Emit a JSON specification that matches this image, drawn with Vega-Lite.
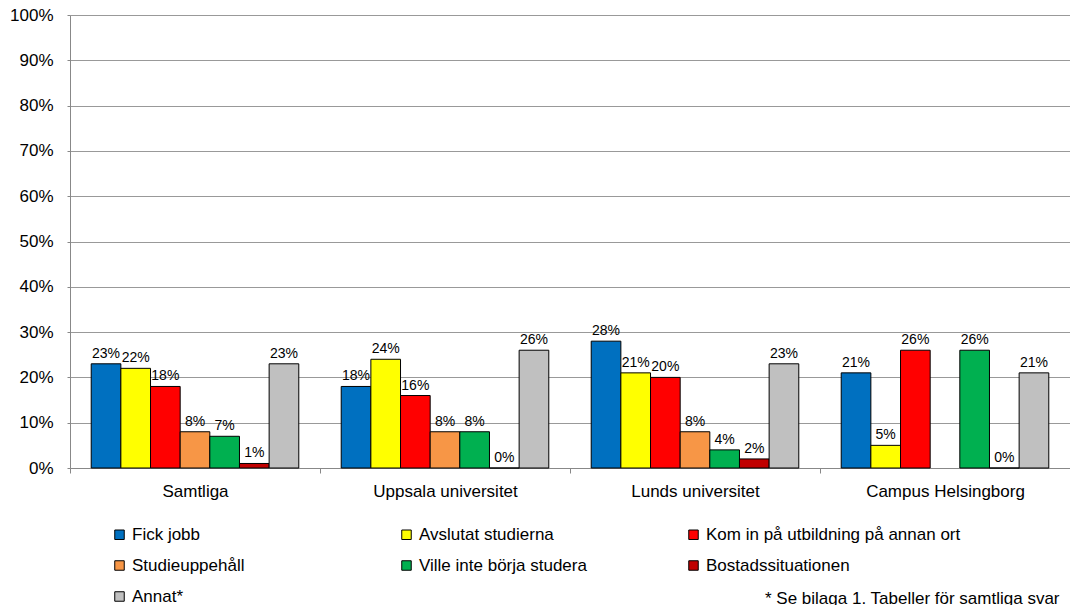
{
  "$schema": "https://vega.github.io/schema/vega-lite/v6.json",
  "width": 1000,
  "height": 453,
  "autosize": {"type": "none"},
  "padding": {"left": 70, "top": 15, "right": 0, "bottom": 137},
  "background": "white",
  "title": {
    "text": "* Se bilaga 1. Tabeller för samtliga svar",
    "orient": "top",
    "anchor": "start",
    "frame": "group",
    "dx": 695,
    "dy": 602,
    "offset": 0,
    "font": "Liberation Sans",
    "fontSize": 17,
    "fontWeight": "normal",
    "color": "black"
  },
  "config": {
    "view": {"stroke": null},
    "font": "Liberation Sans"
  },
  "data": {
    "values": [
      {"grupp": "Samtliga", "orsak": "Fick jobb", "andel": 0.23},
      {"grupp": "Samtliga", "orsak": "Avslutat studierna", "andel": 0.22},
      {"grupp": "Samtliga", "orsak": "Kom in på utbildning på annan ort", "andel": 0.18},
      {"grupp": "Samtliga", "orsak": "Studieuppehåll", "andel": 0.08},
      {"grupp": "Samtliga", "orsak": "Ville inte börja studera", "andel": 0.07},
      {"grupp": "Samtliga", "orsak": "Bostadssituationen", "andel": 0.01},
      {"grupp": "Samtliga", "orsak": "Annat*", "andel": 0.23},
      {"grupp": "Uppsala universitet", "orsak": "Fick jobb", "andel": 0.18},
      {"grupp": "Uppsala universitet", "orsak": "Avslutat studierna", "andel": 0.24},
      {"grupp": "Uppsala universitet", "orsak": "Kom in på utbildning på annan ort", "andel": 0.16},
      {"grupp": "Uppsala universitet", "orsak": "Studieuppehåll", "andel": 0.08},
      {"grupp": "Uppsala universitet", "orsak": "Ville inte börja studera", "andel": 0.08},
      {"grupp": "Uppsala universitet", "orsak": "Bostadssituationen", "andel": 0.0},
      {"grupp": "Uppsala universitet", "orsak": "Annat*", "andel": 0.26},
      {"grupp": "Lunds universitet", "orsak": "Fick jobb", "andel": 0.28},
      {"grupp": "Lunds universitet", "orsak": "Avslutat studierna", "andel": 0.21},
      {"grupp": "Lunds universitet", "orsak": "Kom in på utbildning på annan ort", "andel": 0.20},
      {"grupp": "Lunds universitet", "orsak": "Studieuppehåll", "andel": 0.08},
      {"grupp": "Lunds universitet", "orsak": "Ville inte börja studera", "andel": 0.04},
      {"grupp": "Lunds universitet", "orsak": "Bostadssituationen", "andel": 0.02},
      {"grupp": "Lunds universitet", "orsak": "Annat*", "andel": 0.23},
      {"grupp": "Campus Helsingborg", "orsak": "Fick jobb", "andel": 0.21},
      {"grupp": "Campus Helsingborg", "orsak": "Avslutat studierna", "andel": 0.05},
      {"grupp": "Campus Helsingborg", "orsak": "Kom in på utbildning på annan ort", "andel": 0.26},
      {"grupp": "Campus Helsingborg", "orsak": "Ville inte börja studera", "andel": 0.26},
      {"grupp": "Campus Helsingborg", "orsak": "Bostadssituationen", "andel": 0.0},
      {"grupp": "Campus Helsingborg", "orsak": "Annat*", "andel": 0.21}
    ]
  },
  "encoding": {
    "x": {
      "field": "grupp",
      "type": "nominal",
      "sort": ["Samtliga", "Uppsala universitet", "Lunds universitet", "Campus Helsingborg"],
      "scale": {"paddingInner": 0, "paddingOuter": 0},
      "axis": {
        "title": null,
        "labelAngle": 0,
        "labelFont": "Liberation Sans",
        "labelFontSize": 17,
        "labelColor": "black",
        "labelPadding": 10,
        "domainColor": "#888888",
        "tickColor": "#888888",
        "tickBand": "extent",
        "tickSize": 5
      }
    },
    "xOffset": {
      "field": "orsak",
      "type": "nominal",
      "sort": ["Fick jobb", "Avslutat studierna", "Kom in på utbildning på annan ort", "Studieuppehåll", "Ville inte börja studera", "Bostadssituationen", "Annat*"],
      "scale": {"paddingInner": 0, "paddingOuter": 0.715}
    },
    "y": {
      "field": "andel",
      "type": "quantitative",
      "scale": {"domain": [0, 1]},
      "axis": {
        "title": null,
        "format": ".0%",
        "values": [0, 0.1, 0.2, 0.3, 0.4, 0.5, 0.6, 0.7, 0.8, 0.9, 1.0],
        "labelFont": "Liberation Sans",
        "labelFontSize": 17,
        "labelColor": "black",
        "labelPadding": 14,
        "gridColor": "#999999",
        "gridWidth": 1,
        "domainColor": "#888888",
        "tickColor": "#888888",
        "tickSize": 3
      }
    }
  },
  "layer": [
    {
      "mark": {"type": "bar", "stroke": "black", "strokeWidth": 1},
      "encoding": {
        "fill": {
          "field": "orsak",
          "type": "nominal",
          "sort": ["Fick jobb", "Avslutat studierna", "Kom in på utbildning på annan ort", "Studieuppehåll", "Ville inte börja studera", "Bostadssituationen", "Annat*"],
          "scale": {
            "domain": ["Fick jobb", "Avslutat studierna", "Kom in på utbildning på annan ort", "Studieuppehåll", "Ville inte börja studera", "Bostadssituationen", "Annat*"],
            "range": ["#0070C0", "#FFFF00", "#FF0000", "#F79646", "#00B050", "#C00000", "#C0C0C0"]
          },
          "legend": {
            "title": null,
            "orient": "none",
            "legendX": 41,
            "legendY": 511,
            "direction": "horizontal",
            "columns": 3,
            "gridAlign": "all",
            "columnPadding": 11,
            "rowPadding": 13,
            "symbolType": "square",
            "symbolSize": 90,
            "symbolStrokeColor": "black",
            "symbolStrokeWidth": 1,
            "labelOffset": 4,
            "labelFont": "Liberation Sans",
            "labelFontSize": 17,
            "labelColor": "black",
            "labelLimit": 400
          }
        }
      }
    },
    {
      "mark": {"type": "text", "dy": -10, "fontSize": 14, "font": "Liberation Sans", "color": "black"},
      "encoding": {
        "text": {"field": "andel", "type": "quantitative", "format": ".0%"}
      }
    }
  ]
}
